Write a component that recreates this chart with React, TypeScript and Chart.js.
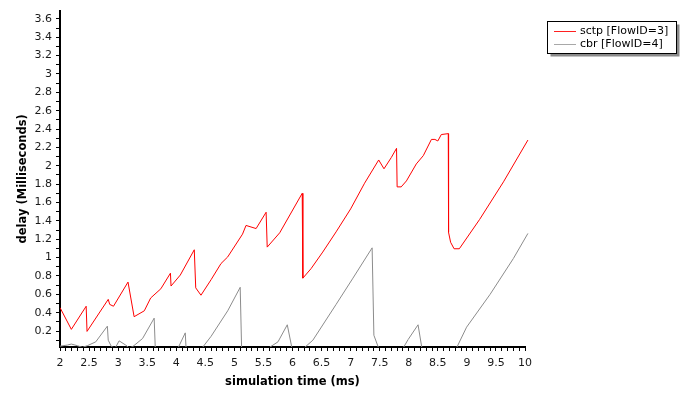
import { useEffect, useRef } from "react";
import { Chart, registerables } from "chart.js";

Chart.register(...registerables);

const seriesNames = ["sctp [FlowID=3]", "cbr [FlowID=4]"];
const seriesColors = ["#ff0000", "#8c8c8c"];
const legendColors = ["#ff2020", "#a8a8a8"];

const sctpTime = [
  2.0, 2.195, 2.45, 2.465, 2.83, 2.855, 2.92, 3.17, 3.275, 3.45, 3.56, 3.735, 3.9, 3.91, 4.07,
  4.31, 4.335, 4.425, 4.6, 4.77, 4.885, 5.14, 5.2, 5.374, 5.546, 5.565, 5.78, 6.167, 6.178,
  6.32, 6.52, 6.75, 7.0, 7.24, 7.483, 7.574, 7.7, 7.79, 7.8, 7.87, 7.96, 8.13, 8.25, 8.39,
  8.45, 8.5, 8.56, 8.68, 8.685, 8.72, 8.78, 8.87, 9.22, 9.63, 10.05,
];
const sctpDelay = [
  0.455, 0.218, 0.47, 0.196, 0.545, 0.49, 0.47, 0.733, 0.356, 0.42, 0.56, 0.66, 0.83, 0.69, 0.81,
  1.085, 0.67, 0.59, 0.76, 0.935, 1.007, 1.255, 1.35, 1.316, 1.494, 1.114, 1.27, 1.7, 0.776,
  0.88, 1.06, 1.28, 1.53, 1.81, 2.063, 1.967, 2.09, 2.19, 1.77, 1.77, 1.835, 2.02, 2.11, 2.287,
  2.287, 2.27, 2.34, 2.35, 1.274, 1.167, 1.096, 1.096, 1.416, 1.825, 2.28,
];

const cbrTime = [
  2.0, 2.126, 2.195, 2.3, 2.385, 2.47, 2.615, 2.815, 2.83, 2.885, 2.95, 3.017, 3.13, 3.19, 3.25,
  3.42, 3.62, 3.64, 4.02, 4.155, 4.17, 4.45, 4.6, 4.885, 5.1, 5.125, 5.6, 5.75, 5.91, 5.995,
  6.207, 6.35, 6.75, 7.04, 7.37, 7.4, 7.49, 7.89, 7.99, 8.16, 8.23, 8.81, 8.995, 9.4, 9.8, 10.05,
];
const cbrDelay = [
  0.035, 0.047, 0.058, 0.04, 0.022, 0.04, 0.082, 0.253, 0.1, 0.03, 0.015, 0.093, 0.047, 0.015, 0.03,
  0.118, 0.34, 0.0, 0.0, 0.18, 0.0, 0.02, 0.143, 0.42, 0.676, 0.0, 0.02, 0.082, 0.268, 0.0,
  0.02, 0.1, 0.49, 0.776, 1.106, 0.154, 0.0, 0.0, 0.108, 0.268, 0.0, 0.0, 0.242, 0.6, 0.99, 1.263,
];

const xTickLabels = [2, 2.5, 3, 3.5, 4, 4.5, 5, 5.5, 6, 6.5, 7, 7.5, 8, 8.5, 9, 9.5, 10];
const yTickLabels = [
  0.2, 0.4, 0.6, 0.8, 1, 1.2, 1.4, 1.6, 1.8, 2, 2.2, 2.4, 2.6, 2.8, 3, 3.2, 3.4, 3.6,
];

const xMin = 2;
const xMax = 10;
const yMin = 0.026;
const yMax = 3.69;
const minorStep = 0.1;

const FONT = '"DejaVu Sans", Verdana, sans-serif';

function isLabel(list: number[], v: number) {
  return list.some((t) => Math.abs(t - v) < 1e-6);
}

function buildMinorTicks(lo: number, hi: number) {
  const out: { value: number }[] = [];
  const start = Math.ceil(lo / minorStep - 1e-9);
  const end = Math.floor(hi / minorStep + 1e-9);
  for (let i = start; i <= end; i++) out.push({ value: Math.round(i * minorStep * 1000) / 1000 });
  return out;
}

const legendBox = {
  id: "legendBox",
  afterDraw(chart: any) {
    const { ctx, chartArea } = chart;
    const x = chartArea.right + 22.5;
    const y = 21.5;
    const w = 129;
    const h = 32;
    ctx.save();
    ctx.fillStyle = "#8a8a8a";
    ctx.fillRect(x + 3, y + 3, w, h);
    ctx.fillStyle = "#ffffff";
    ctx.fillRect(x, y, w, h);
    ctx.strokeStyle = "#000000";
    ctx.lineWidth = 1;
    ctx.strokeRect(x, y, w, h);
    chart.data.datasets.forEach((ds: any, i: number) => {
      const ly = Math.round(y + 9 + i * 13.6);
      ctx.fillStyle = legendColors[i];
      ctx.fillRect(Math.round(x + 6), ly, 22, 1);
      ctx.fillStyle = "#000000";
      ctx.font = `11px ${FONT}`;
      ctx.textBaseline = "middle";
      ctx.textAlign = "left";
      ctx.fillText(ds.label, x + 32.5, ly + 0.5);
    });
    ctx.restore();
  },
};

export default function App() {
  const ref = useRef<HTMLCanvasElement | null>(null);

  useEffect(() => {
    if (!ref.current) return;
    const chart = new Chart(ref.current, {
      type: "line",
      data: {
        datasets: [
          {
            label: seriesNames[0],
            data: sctpTime.map((t, i) => ({ x: t, y: sctpDelay[i] })),
            borderColor: seriesColors[0],
            borderWidth: 1,
            pointRadius: 0,
            tension: 0,
            clip: { left: 0, top: 0, right: 6, bottom: 0 } as any,
          },
          {
            label: seriesNames[1],
            data: cbrTime.map((t, i) => ({ x: t, y: cbrDelay[i] })),
            borderColor: seriesColors[1],
            borderWidth: 1,
            pointRadius: 0,
            tension: 0,
            clip: { left: 0, top: 0, right: 6, bottom: 0 } as any,
          },
        ],
      },
      options: {
        animation: false,
        responsive: false,
        devicePixelRatio: 1,
        events: [],
        layout: { padding: { left: 0, top: 5, right: 163, bottom: 0 } },
        plugins: {
          legend: { display: false },
          tooltip: { enabled: false },
        },
        scales: {
          x: {
            type: "linear",
            min: xMin,
            max: xMax,
            afterFit: (s: any) => {
              s.height = 46;
            },
            afterBuildTicks: (s: any) => {
              s.ticks = buildMinorTicks(xMin, xMax);
            },
            grid: {
              drawOnChartArea: false,
              drawTicks: true,
              tickLength: 4,
              tickColor: "#000000",
            },
            border: { display: true, color: "#000000", width: 2 },
            ticks: {
              autoSkip: false,
              maxRotation: 0,
              padding: 6,
              color: "#1a1a1a",
              font: { family: FONT, size: 11 },
              callback: (v: any) => (isLabel(xTickLabels, Number(v)) ? String(Number(v)) : ""),
            },
            title: {
              display: true,
              text: "simulation time (ms)",
              color: "#000000",
              font: { family: FONT, size: 11.5, weight: "bold" },
              padding: { top: 0, bottom: 4 },
            },
          },
          y: {
            type: "linear",
            min: yMin,
            max: yMax,
            afterFit: (s: any) => {
              s.width = 60;
            },
            afterBuildTicks: (s: any) => {
              s.ticks = buildMinorTicks(yMin, yMax);
            },
            grid: {
              drawOnChartArea: false,
              drawTicks: true,
              tickLength: 4,
              tickColor: "#000000",
            },
            border: { display: true, color: "#000000", width: 2 },
            ticks: {
              autoSkip: false,
              padding: 4,
              color: "#1a1a1a",
              font: { family: FONT, size: 11 },
              callback: (v: any) => (isLabel(yTickLabels, Number(v)) ? String(Number(v)) : ""),
            },
            title: {
              display: true,
              text: "delay (Milliseconds)",
              color: "#000000",
              font: { family: FONT, size: 11.5, weight: "bold" },
              padding: { top: 16, bottom: 0 },
            },
          },
        },
      },
      plugins: [legendBox],
    });
    return () => chart.destroy();
  }, []);

  return (
    <div style={{ position: "absolute", left: 0, top: 0, width: 688, height: 393, background: "#ffffff" }}>
      <canvas ref={ref} width={688} height={393} style={{ display: "block" }} />
    </div>
  );
}
